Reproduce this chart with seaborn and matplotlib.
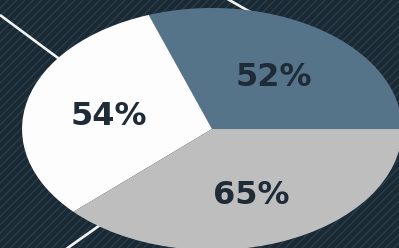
import matplotlib
matplotlib.use("Agg")
import matplotlib.pyplot as plt
import matplotlib.patches as mpatches
import seaborn as sns

# slice values, counterclockwise from 3 o'clock
values = [52, 54, 65]
slice_colors = ["#557389", "#fdfdfd", "#bebebe"]

bg_color = "#1b2933"
stripe_color = "#263b4b"
text_color = "#1f2c38"

sns.set_theme(style="white")
plt.rcParams["font.family"] = ["DejaVu Sans"]
plt.rcParams["hatch.linewidth"] = 1.2

fig = plt.figure(figsize=(3.99, 2.48), dpi=100)
ax = fig.add_axes([0, 0, 1, 1])
ax.set_axis_off()

# striped background
bg = mpatches.Rectangle((0, 0), 1, 1, transform=ax.transAxes, facecolor=bg_color,
                        edgecolor=stripe_color, hatch="////", linewidth=0, zorder=0)
ax.add_patch(bg)

# decorative white lines running behind the pie (pixel coords of the 399x248 canvas)
for (x0, y0), (x1, y1) in [((0, 15), (85, 78)), ((224, -3), (252, 13)), ((62, 252), (110, 218))]:
    ax.plot([x0 / 399, x1 / 399], [1 - y0 / 248, 1 - y1 / 248], transform=ax.transAxes,
            color="#f2f2f2", linewidth=1.9, zorder=0.5, solid_capstyle="butt")

total = sum(values)
wedges, texts, autotexts = ax.pie(
    values,
    colors=slice_colors,
    startangle=0,
    counterclock=True,
    autopct=lambda p: f"{p * total / 100:.0f}%",
    pctdistance=0.56,
    wedgeprops=dict(linewidth=0),
    textprops=dict(color=text_color, fontsize=23, fontweight="bold"),
)
for t in autotexts:
    t.set_va("center_baseline")

# stretched, cropped pie like the reference
ax.set_aspect("auto")
ax.set_xlim(-1.116, 0.984)
ax.set_ylim(-0.983, 1.066)

plt.savefig("out.png", dpi=100, facecolor=bg_color)
